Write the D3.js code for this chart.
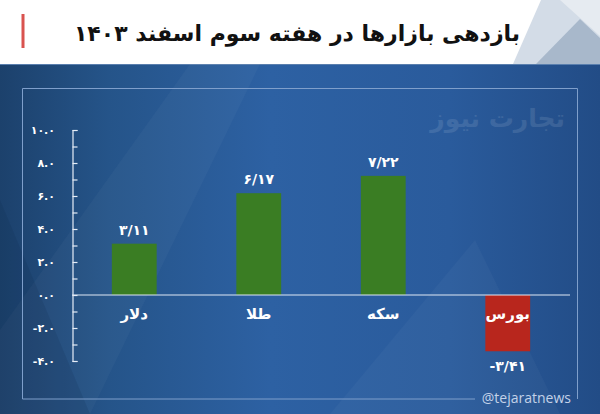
<!DOCTYPE html>
<html><head><meta charset="utf-8">
<script src="https://cdn.jsdelivr.net/npm/d3@7/dist/d3.min.js"></script>
<style>html,body{margin:0;padding:0;background:#fff;}svg{display:block;}</style>
</head><body>
<svg id="chart" width="600" height="414"></svg>
<script>
const categories = ["دلار", "طلا", "سکه", "بورس"];
const values = [3.11, 6.17, 7.22, -3.41];
const valueLabels = ["۳/۱۱", "۶/۱۷", "۷/۲۲", "-۳/۴۱"];
const tickValues = [10, 8, 6, 4, 2, 0, -2, -4];
const tickLabels = ["۱۰.۰", "۸.۰", "۶.۰", "۴.۰", "۲.۰", "۰.۰", "-۲.۰", "-۴.۰"];
const title = "بازدهی بازارها در هفته سوم اسفند ۱۴۰۳";

const svg = d3.select("#chart");
const FONT = "'DejaVu Sans', sans-serif";
const defs = svg.append("defs");
const g1 = defs.append("linearGradient").attr("id","bg").attr("x1","0").attr("x2","1").attr("y1","0").attr("y2","0");
g1.append("stop").attr("offset","0").attr("stop-color","#1c416c");
g1.append("stop").attr("offset","0.18").attr("stop-color","#255489");
g1.append("stop").attr("offset","0.45").attr("stop-color","#2d61a3");
g1.append("stop").attr("offset","0.75").attr("stop-color","#2a5b9c");
g1.append("stop").attr("offset","1").attr("stop-color","#224c86");

// header
svg.append("rect").attr("x",0).attr("y",0).attr("width",600).attr("height",64).attr("fill","#ffffff");
svg.append("polygon").attr("points","513,64 541,0 600,0 600,64").attr("fill","#d3dce7");
svg.append("polygon").attr("points","560,0 600,0 600,36 580,18").attr("fill","#e6ebf1");
svg.append("polygon").attr("points","536,64 580,19 600,38 600,64").attr("fill","#a8b8cb");
svg.append("rect").attr("x",21.5).attr("y",14).attr("width",3).attr("height",34).attr("fill","#d9534f");
svg.append("text").attr("x",297).attr("y",41).attr("text-anchor","middle")
  .attr("font-family",FONT).attr("font-weight","bold").attr("font-size",22).attr("fill","#111")
  .attr("direction","rtl").text(title);

// background
svg.append("rect").attr("x",0).attr("y",64).attr("width",600).attr("height",350).attr("fill","url(#bg)");
svg.append("line").attr("x1",0).attr("x2",600).attr("y1",64.5).attr("y2",64.5).attr("stroke","#5a7fae").attr("stroke-width",1);
svg.append("polygon").attr("points","190,64 260,64 90,414 0,414 0,330").attr("fill","#ffffff").attr("opacity",0.03);
svg.append("polygon").attr("points","0,200 0,414 90,414").attr("fill","#0d2a4d").attr("opacity",0.15);
svg.append("polygon").attr("points","330,414 475,240 560,414").attr("fill","#ffffff").attr("opacity",0.03);

// watermark
svg.append("text").attr("x",565).attr("y",127).attr("text-anchor","start")
  .attr("font-family",FONT).attr("font-weight","bold").attr("font-size",25)
  .attr("fill","#ffffff").attr("opacity",0.1).attr("direction","rtl").text("تجارت نیوز");

// frame
const frameColor = "#7f9fcb";
svg.append("path").attr("d","M475,399 L22.5,399 L22.5,88.5 L577.5,88.5 L577.5,399")
  .attr("fill","none").attr("stroke",frameColor).attr("stroke-width",1);
svg.append("text").attr("x",571).attr("y",403).attr("text-anchor","end")
  .attr("font-family","'Open Sans', 'DejaVu Sans', sans-serif").attr("font-size",14).attr("fill","#c3d2e8")
  .text("@tejaratnews");

// scales
const y = d3.scaleLinear().domain([-4,10]).range([361,130]);
const x = d3.scaleBand().domain(categories).range([72,570]).paddingInner(0.64).paddingOuter(0.32);

// axis
const axis = d3.axisRight(y).tickValues(d3.range(-4,11,1)).tickSize(5).tickSizeOuter(5).tickFormat("");
const ag = svg.append("g").attr("transform","translate(72.5,0)").call(axis);
ag.selectAll("path,line").attr("stroke","#e6edf7").attr("stroke-width",1.2);

svg.append("g").selectAll("text").data(tickValues).join("text")
  .attr("x",55).attr("y",d=>y(d)+4).attr("text-anchor","end")
  .attr("font-family",FONT).attr("font-weight","bold").attr("font-size",11).attr("fill","#ffffff")
  .text((d,i)=>tickLabels[i]);

// bars
const data = categories.map((c,i)=>({c, v:values[i], lab:valueLabels[i]}));
svg.append("g").selectAll("rect").data(data).join("rect")
  .attr("x",d=>x(d.c)).attr("width",x.bandwidth())
  .attr("y",d=>y(Math.max(0,d.v))).attr("height",d=>Math.abs(y(d.v)-y(0)))
  .attr("fill",d=>d.v>=0?"#3a7d23":"#b8261d");

// baseline
svg.append("line").attr("x1",72).attr("x2",570).attr("y1",y(0)).attr("y2",y(0))
  .attr("stroke","#dfe8f4").attr("stroke-width",1);

// value labels
svg.append("g").selectAll("text").data(data).join("text")
  .attr("x",d=>x(d.c)+x.bandwidth()/2)
  .attr("y",d=>d.v>=0 ? y(d.v)-9 : y(d.v)+20)
  .attr("text-anchor","middle").attr("font-family",FONT).attr("font-weight","bold")
  .attr("font-size",14).attr("fill","#ffffff").text(d=>d.lab);

// category labels
svg.append("g").selectAll("text").data(data).join("text")
  .attr("x",d=>x(d.c)+x.bandwidth()/2).attr("y",y(0)+24)
  .attr("text-anchor","middle").attr("font-family",FONT).attr("font-weight","bold")
  .attr("font-size",15).attr("fill","#ffffff").attr("direction","rtl").text(d=>d.c);
</script>
</body></html>
